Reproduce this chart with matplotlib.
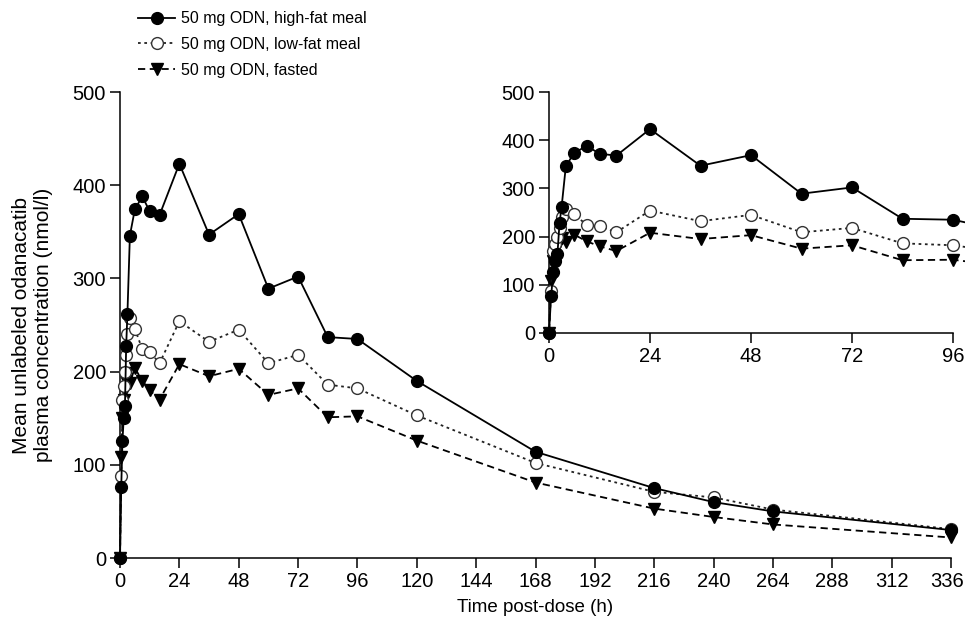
import matplotlib
matplotlib.use("Agg")
import matplotlib.pyplot as plt
import matplotlib.transforms as mtransforms

plt.rcParams['font.family'] = ['Liberation Sans', 'DejaVu Sans']

time_h = [0, 0.5, 1, 1.5, 2, 2.5, 3, 4, 6, 9, 12, 16, 24, 36, 48, 60, 72, 84, 96,
          120, 168, 216, 240, 264, 336]
high_fat = [0, 76, 126, 150, 163, 228, 262, 346, 374, 388, 372, 368, 423, 347, 369, 289,
            302, 237, 235, 190, 114, 75, 60, 50, 30]
low_fat = [0, 88, 170, 185, 200, 218, 240, 258, 246, 224, 221, 209, 254, 232, 245, 209,
           218, 186, 182, 153, 102, 71, 65, 52, 31]
fasted = [0, 108, 150, 170, 180, 190, 198, 188, 204, 190, 180, 170, 208, 195, 203, 175,
          182, 151, 152, 126, 81, 53, 44, 36, 22]

labels = ['50 mg ODN, high-fat meal', '50 mg ODN, low-fat meal', '50 mg ODN, fasted']
main_xticks = list(range(0, 337, 24))
inset_xticks = [0, 24, 48, 72, 96]
yticks = [0, 100, 200, 300, 400, 500]

W, H = 965, 621
fig = plt.figure(figsize=(W / 100, H / 100), dpi=100)

def style(ax, xticks, xmax, fs):
    ax.set_xlim(0, xmax)
    ax.set_ylim(0, 500)
    ax.set_xticks(xticks)
    ax.set_yticks(yticks)
    for s in ['top', 'right']:
        ax.spines[s].set_visible(False)
    for s in ['left', 'bottom']:
        ax.spines[s].set_linewidth(1.1)
    ax.tick_params(direction='out', length=7, width=1.1, labelsize=fs, pad=3)

def draw(ax, ms):
    l1, = ax.plot(time_h, high_fat, color='black', lw=1.3, ls='-', marker='o', ms=ms,
                  mfc='black', mec='black', clip_on=False, zorder=5)
    l2, = ax.plot(time_h, low_fat, color='#222222', lw=1.3, ls=(0, (1.5, 2.0)), marker='o', ms=ms,
                  mfc='white', mec='#333333', mew=1.0, clip_on=False, zorder=4)
    l3, = ax.plot(time_h, fasted, color='black', lw=1.3, ls=(0, (4, 2.5)), marker='v', ms=ms,
                  mfc='black', mec='black', clip_on=False, zorder=3)
    return [l1, l2, l3]

ax = fig.add_axes([120 / W, (H - 558) / H, (951 - 120) / W, (558 - 92) / H])
style(ax, main_xticks, 336, 14.5)
handles = draw(ax, 8.5)
ax.set_xlabel('Time post-dose (h)', fontsize=13.5, labelpad=6)
ax.set_ylabel('Mean unlabeled odanacatib\nplasma concentration (nmol/l)', fontsize=15,
              labelpad=14)

# nudge the last main tick label so it stays inside the canvas
fig.canvas.draw()
last = ax.get_xticklabels()[-1]
last.set_transform(last.get_transform() + mtransforms.ScaledTranslation(-0.04, 0, fig.dpi_scale_trans))

axi = fig.add_axes([549 / W, (H - 333) / H, (953 - 549) / W, (333 - 92) / H])
style(axi, inset_xticks, 96, 14.5)
draw(axi, 8.5)

fig.legend(handles, labels, loc='upper left', bbox_to_anchor=(135 / W, 1 - 8 / H),
           frameon=False, fontsize=11.5, handlelength=2.3, handletextpad=0.35,
           labelspacing=0.68, borderaxespad=0, borderpad=0.2)

fig.savefig('out.png', dpi=100)
